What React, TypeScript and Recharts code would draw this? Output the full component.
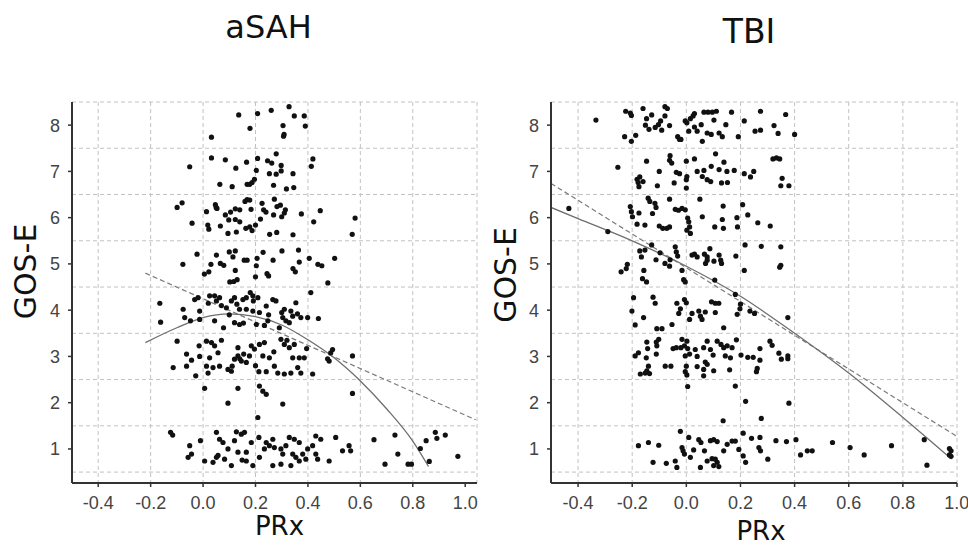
import React from 'react';
import { ComposedChart, Scatter, Line, XAxis, YAxis, CartesianGrid } from 'recharts';

type Pt = [number, number];

// ---- aSAH (left panel), points grouped by GOS-E band ----
const sahGos8: Pt[] = [
  [0.136, 8.22], [0.208, 8.25], [0.26, 8.32], [0.328, 8.4], [0.348, 8.2], [0.386, 8.2], [0.305, 7.99],
  [0.39, 7.98], [0.179, 7.93], [0.309, 7.8], [0.032, 7.74], [0.307, 7.76],
];
const sahGos7: Pt[] = [
  [0.032, 7.29], [0.085, 7.25], [0.166, 7.2], [0.125, 7.07], [0.208, 7.28], [0.246, 7.23], [0.262, 7.18],
  [0.279, 7.38], [0.298, 7.13], [0.203, 7.02], [0.253, 6.95], [0.279, 6.94], [0.343, 6.95], [0.298, 7.01],
  [0.419, 7.27], [0.413, 7.11], [-0.051, 7.1], [0.064, 6.72], [0.111, 6.67], [0.168, 6.72], [0.187, 6.76],
  [0.196, 6.83], [0.269, 6.7], [0.318, 6.62], [0.346, 6.65], [0.178, 6.72],
];
const sahGos6: Pt[] = [
  [-0.099, 6.22], [-0.08, 6.32], [-0.042, 5.88], [0.013, 6.13], [0.047, 6.28], [0.053, 6.2], [0.085, 6.06],
  [0.098, 5.95], [0.123, 6.19], [0.14, 6.17], [0.168, 6.39], [0.178, 6.38], [0.183, 6.18], [0.225, 6.31],
  [0.231, 6.17], [0.272, 6.4], [0.282, 6.24], [0.295, 6.27], [0.314, 6.17], [0.269, 6.06], [0.3, 6.02],
  [0.219, 5.97], [0.2, 5.84], [0.178, 5.8], [0.163, 5.77], [0.14, 5.91], [0.123, 5.96], [0.066, 5.82],
  [0.018, 5.84], [0.022, 5.75], [0.095, 5.66], [0.127, 5.69], [0.187, 5.72], [0.254, 5.64], [0.281, 5.68],
  [0.343, 5.63], [0.375, 6.08], [0.422, 5.91], [0.447, 6.15], [0.58, 5.99], [0.569, 5.64], [0.05, 6.22],
  [0.16, 6.35], [0.31, 6.1], [0.105, 6.12], [0.24, 6.12],
];
const sahGos5: Pt[] = [
  [-0.077, 4.99], [-0.023, 5.21], [0.051, 5.19], [0.03, 4.99], [0.022, 4.83], [0.005, 4.78], [0.066, 5.01],
  [0.079, 4.97], [0.1, 5.26], [0.123, 5.28], [0.114, 5.15], [0.157, 5.08], [0.168, 5.08], [0.206, 5.12],
  [0.229, 5.25], [0.203, 4.96], [0.267, 5.08], [0.301, 5.28], [0.364, 5.3], [0.367, 5.04], [0.343, 4.9],
  [0.352, 4.83], [0.405, 5.12], [0.438, 4.99], [0.453, 4.96], [0.502, 5.12], [0.244, 4.79], [0.25, 4.74],
  [0.123, 4.86], [0.102, 4.61], [0.117, 4.62], [0.13, 4.66], [0.2, 4.72], [0.476, 4.59],
];
const sahGos4: Pt[] = [
  [-0.165, 4.15], [-0.162, 3.74], [-0.076, 4.02], [-0.07, 3.84], [-0.048, 3.77], [-0.032, 4.23], [-0.019, 4.27],
  [-0.013, 3.98], [-0.013, 3.8], [0.025, 4.31], [0.044, 4.31], [0.051, 4.2], [0.063, 4.27], [0.089, 4.05],
  [0.108, 4.2], [0.12, 4.27], [0.129, 4.13], [0.152, 4.23], [0.165, 4.27], [0.19, 4.31], [0.192, 4.2],
  [0.209, 4.27], [0.139, 4.02], [0.165, 4.02], [0.19, 3.98], [0.215, 3.95], [0.241, 4.09], [0.266, 4.23],
  [0.278, 4.2], [0.31, 4.02], [0.335, 3.98], [0.354, 4.16], [0.304, 3.84], [0.316, 3.77], [0.342, 3.87],
  [0.373, 3.84], [0.399, 3.84], [0.44, 3.82], [0.411, 4.38], [0.044, 3.77], [0.078, 3.62], [0.12, 3.73],
  [0.139, 3.69], [0.154, 3.72], [0.203, 3.69], [0.234, 3.67], [0.247, 3.77], [0.291, 3.62], [0.329, 3.73],
  [0.07, 4.1], [0.18, 4.38], [0.02, 4.15], [0.1, 3.9], [0.25, 3.9], [0.3, 3.95], [0.36, 3.92],
];
const sahGos3: Pt[] = [
  [-0.099, 3.33], [-0.063, 3.05], [-0.044, 2.92], [-0.063, 2.79], [-0.114, 2.76], [-0.028, 2.58], [-0.015, 3.23],
  [-0.013, 3.0], [0.013, 3.33], [0.032, 3.3], [0.044, 3.23], [0.057, 3.08], [0.025, 2.97], [0.013, 2.79],
  [0.038, 2.76], [0.019, 2.64], [0.095, 2.72], [0.111, 2.79], [0.12, 2.94], [0.133, 3.01], [0.146, 2.9],
  [0.165, 2.87], [0.177, 3.01], [0.184, 3.23], [0.196, 3.16], [0.215, 3.26], [0.234, 3.3], [0.228, 3.01],
  [0.253, 2.97], [0.272, 2.79], [0.297, 3.37], [0.31, 3.26], [0.329, 3.19], [0.348, 3.26], [0.342, 2.97],
  [0.367, 2.97], [0.386, 2.97], [0.361, 2.76], [0.373, 2.64], [0.335, 2.64], [0.31, 2.62], [0.285, 2.64],
  [0.241, 2.67], [0.213, 2.67], [0.418, 2.62], [0.395, 3.17], [0.475, 2.95], [0.487, 3.08], [0.494, 3.15],
  [0.481, 2.9], [0.57, 3.01], [0.133, 3.19], [0.063, 2.79], [0.108, 2.68], [0.14, 2.95], [0.155, 3.05],
  [0.27, 3.1], [0.32, 3.35], [0.07, 3.35], [0.2, 2.8],
];
const sahGos2: Pt[] = [
  [0.006, 2.31], [0.133, 2.31], [0.095, 1.99], [0.215, 2.36], [0.228, 2.25], [0.241, 2.18], [0.304, 1.97],
  [0.209, 1.68], [0.57, 2.2],
];
const sahGos1: Pt[] = [
  [-0.124, 1.36], [-0.116, 1.3], [-0.051, 1.07], [-0.044, 0.89], [-0.057, 0.82], [-0.01, 1.18], [0.006, 0.74],
  [0.038, 0.71], [0.051, 1.36], [0.063, 1.21], [0.076, 1.14], [0.051, 0.82], [0.057, 0.86], [0.082, 0.78],
  [0.108, 0.64], [0.095, 1.0], [0.127, 1.37], [0.146, 1.32], [0.158, 1.36], [0.12, 1.18], [0.133, 0.93],
  [0.165, 0.93], [0.149, 0.76], [0.165, 0.74], [0.213, 1.25], [0.215, 0.82], [0.234, 1.0], [0.241, 1.14],
  [0.253, 1.07], [0.266, 1.21], [0.272, 1.03], [0.266, 0.64], [0.297, 1.0], [0.304, 0.89], [0.316, 1.07],
  [0.329, 1.25], [0.348, 1.21], [0.367, 1.14], [0.342, 0.89], [0.354, 0.82], [0.335, 0.64], [0.367, 0.74],
  [0.38, 0.89], [0.399, 1.0], [0.392, 0.78], [0.418, 1.07], [0.43, 1.28], [0.449, 1.21], [0.43, 0.89],
  [0.437, 0.78], [0.481, 0.74], [0.506, 1.25], [0.532, 0.96], [0.557, 1.07], [0.563, 0.96], [0.652, 1.2],
  [0.694, 0.67], [0.732, 1.3], [0.743, 0.89], [0.782, 0.67], [0.795, 0.67], [0.829, 1.01], [0.851, 1.18],
  [0.863, 0.73], [0.886, 1.36], [0.892, 1.23], [0.924, 1.3], [0.972, 0.84], [0.184, 1.14], [0.297, 0.67],
  [0.19, 0.64],
];
const sahQuadFit: Pt[] = [
  [-0.22, 3.3], [-0.1, 3.62], [0.0, 3.84], [0.1, 3.92], [0.2, 3.86], [0.3, 3.68], [0.4, 3.36], [0.5, 2.97],
  [0.6, 2.47], [0.7, 1.87], [0.8, 1.17], [0.86, 0.62],
];
const sahLinFit: Pt[] = [[-0.22, 4.8], [1.04, 1.63]];

// ---- TBI (right panel) ----
const tbiGos8: Pt[] = [
  [-0.334, 8.11], [-0.224, 8.3], [-0.207, 8.26], [-0.203, 8.21], [-0.228, 7.75], [-0.203, 7.65], [-0.187, 7.78],
  [-0.16, 8.36], [-0.128, 8.22], [-0.147, 8.14], [-0.151, 8.0], [-0.138, 7.91], [-0.103, 8.01], [-0.095, 8.09],
  [-0.079, 8.2], [-0.079, 8.4], [-0.07, 8.36], [-0.091, 7.89], [-0.062, 7.99], [-0.032, 7.75], [-0.02, 7.69],
  [-0.004, 8.09], [0.002, 8.05], [0.015, 8.14], [0.03, 8.25], [0.03, 7.96], [0.04, 7.87], [0.055, 8.01],
  [0.065, 8.28], [0.08, 8.28], [0.096, 8.28], [0.111, 8.3], [0.102, 8.11], [0.077, 7.83], [0.059, 7.65],
  [0.092, 7.8], [0.121, 7.83], [0.146, 8.01], [0.167, 8.28], [0.133, 7.75], [0.192, 7.75], [0.214, 8.09],
  [0.274, 8.3], [0.254, 7.87], [0.274, 7.89], [0.324, 7.99], [0.339, 7.82], [0.367, 8.23], [-0.025, 7.69],
  [0.009, 7.87], [0.4, 7.8], [0.025, 8.2], [-0.115, 7.95],
];
const tbiGos7: Pt[] = [
  [-0.253, 7.09], [-0.147, 7.22], [-0.182, 6.83], [-0.172, 6.88], [-0.178, 6.76], [-0.175, 6.67], [-0.16, 6.78],
  [-0.1, 7.0], [-0.107, 6.69], [-0.06, 7.34], [-0.062, 7.24], [-0.054, 7.18], [-0.037, 6.98], [-0.025, 6.95],
  [-0.045, 6.75], [0.0, 7.22], [0.0, 6.82], [0.0, 6.64], [0.03, 7.27], [0.04, 7.0], [0.065, 7.02], [0.077, 6.82],
  [0.09, 6.78], [0.092, 7.11], [0.108, 7.38], [0.121, 7.04], [0.13, 6.75], [0.139, 7.2], [0.15, 7.0],
  [0.152, 6.76], [0.177, 7.02], [0.214, 6.95], [0.237, 6.88], [0.249, 7.0], [0.32, 7.27], [0.333, 7.29],
  [0.345, 7.27], [0.354, 6.85], [0.349, 6.69], [0.379, 6.69], [0.059, 6.89], [0.002, 6.89],
];
const tbiGos6: Pt[] = [
  [-0.434, 6.2], [-0.29, 5.7], [-0.207, 6.24], [-0.203, 6.13], [-0.199, 6.02], [-0.175, 6.1], [-0.182, 5.86],
  [-0.153, 5.84], [-0.141, 6.42], [-0.135, 6.35], [-0.116, 6.31], [-0.112, 6.22], [-0.125, 6.09], [-0.1, 5.82],
  [-0.087, 5.77], [-0.072, 5.77], [-0.062, 5.8], [-0.062, 6.4], [-0.041, 6.18], [-0.029, 6.16], [-0.016, 6.2],
  [-0.004, 6.17], [0.005, 5.99], [0.009, 5.91], [0.012, 5.8], [0.002, 5.73], [0.015, 5.66], [0.05, 6.4],
  [0.059, 6.02], [0.105, 5.8], [0.136, 6.25], [0.133, 5.96], [0.137, 5.77], [0.187, 6.0], [0.189, 5.8],
  [0.208, 6.28], [0.227, 6.06], [0.264, 5.89], [0.31, 5.82],
];
const tbiGos5: Pt[] = [
  [-0.218, 4.99], [-0.222, 4.9], [-0.241, 4.83], [-0.172, 5.28], [-0.166, 5.15], [-0.153, 5.3], [-0.157, 4.86],
  [-0.162, 4.68], [-0.147, 4.61], [-0.128, 5.41], [-0.112, 5.09], [-0.097, 5.24], [-0.079, 5.01], [-0.062, 4.95],
  [-0.06, 5.09], [-0.041, 5.37], [-0.037, 5.26], [-0.032, 5.17], [-0.016, 4.86], [-0.01, 4.66], [-0.004, 4.61],
  [0.021, 5.19], [0.03, 5.21], [0.04, 5.15], [0.067, 5.21], [0.077, 5.15], [0.077, 5.08], [0.071, 5.01],
  [0.087, 5.33], [0.102, 5.06], [0.105, 4.65], [0.121, 5.19], [0.13, 5.01], [0.127, 5.08], [0.183, 5.17],
  [0.217, 5.41], [0.214, 4.86], [0.277, 5.38], [0.349, 5.37], [0.349, 4.97], [0.345, 4.93],
];
const tbiGos4: Pt[] = [
  [-0.195, 4.27], [-0.123, 4.28], [-0.115, 4.15], [-0.201, 3.98], [-0.158, 3.84], [-0.189, 3.68], [-0.035, 4.15],
  [-0.022, 4.03], [-0.028, 3.93], [-0.007, 4.23], [0.0, 4.16], [0.012, 3.8], [0.021, 3.93], [0.046, 3.98],
  [0.052, 3.87], [0.07, 3.96], [0.058, 3.8], [0.093, 4.18], [0.107, 4.15], [0.12, 4.15], [0.107, 3.95],
  [0.138, 3.62], [0.181, 4.34], [0.2, 4.13], [0.198, 4.03], [0.188, 3.91], [0.235, 3.98], [0.252, 3.93],
  [0.375, 3.84], [-0.109, 3.6], [-0.09, 3.6], [-0.053, 3.69],
];
const tbiGos3: Pt[] = [
  [-0.189, 3.01], [-0.177, 3.08], [-0.146, 3.31], [-0.143, 3.17], [-0.148, 2.97], [-0.14, 2.79], [-0.146, 2.69],
  [-0.17, 2.62], [-0.152, 2.64], [-0.136, 2.63], [-0.111, 3.31], [-0.109, 3.23], [-0.102, 3.37], [-0.111, 3.05],
  [-0.078, 2.79], [-0.057, 2.79], [-0.049, 3.17], [-0.037, 3.19], [-0.02, 3.19], [-0.007, 3.23], [-0.016, 3.37],
  [0.002, 3.33], [0.005, 3.17], [-0.004, 3.01], [0.012, 3.05], [0.0, 2.79], [-0.004, 2.67], [0.002, 2.6],
  [0.033, 3.15], [0.04, 3.0], [0.04, 2.78], [0.064, 3.19], [0.077, 3.33], [0.089, 3.15], [0.099, 3.03],
  [0.07, 2.88], [0.077, 2.83], [0.064, 2.72], [0.064, 2.58], [0.101, 2.69], [0.114, 3.33], [0.128, 3.26],
  [0.138, 3.19], [0.151, 3.23], [0.169, 3.19], [0.144, 3.01], [0.163, 2.97], [0.16, 2.71], [0.185, 3.36],
  [0.202, 3.03], [0.227, 2.98], [0.247, 2.98], [0.272, 3.17], [0.272, 2.92], [0.262, 2.74], [0.259, 2.67],
  [0.309, 3.33], [0.317, 3.24], [0.342, 3.07], [0.351, 2.94], [0.375, 3.01], [0.375, 2.95],
];
const tbiGos2: Pt[] = [
  [0.005, 2.35], [0.181, 2.36], [0.219, 2.03], [0.379, 1.99], [0.277, 1.66], [0.136, 1.61],
];
const tbiGos1: Pt[] = [
  [-0.177, 1.07], [-0.14, 1.14], [-0.102, 1.08], [-0.123, 0.71], [-0.074, 0.69], [-0.041, 0.74], [-0.035, 0.6],
  [-0.022, 1.38], [-0.016, 1.03], [-0.012, 0.96], [-0.007, 0.89], [0.009, 1.25], [0.015, 0.82], [0.027, 0.98],
  [0.046, 1.2], [0.054, 1.14], [0.067, 0.96], [0.052, 0.6], [0.077, 0.74], [0.089, 1.18], [0.101, 1.2],
  [0.114, 1.16], [0.095, 0.79], [0.107, 0.78], [0.114, 0.71], [0.101, 0.64], [0.12, 0.62], [0.138, 0.96],
  [0.151, 1.1], [0.169, 1.17], [0.181, 1.17], [0.194, 0.99], [0.21, 0.85], [0.219, 0.71], [0.21, 1.34],
  [0.241, 1.23], [0.272, 1.25], [0.268, 1.03], [0.274, 0.96], [0.301, 0.78], [0.331, 1.18], [0.37, 1.16],
  [0.405, 1.2], [0.422, 0.87], [0.447, 0.96], [0.465, 0.96], [0.54, 1.14], [0.605, 1.03], [0.657, 0.87],
  [0.758, 1.07], [0.879, 1.2], [0.889, 0.65], [0.972, 1.01], [0.978, 0.96], [0.972, 0.87], [0.978, 0.84],
];
const tbiQuadFit: Pt[] = [
  [-0.5, 6.22], [-0.4, 5.98], [-0.2, 5.5], [0.0, 4.95], [0.2, 4.3], [0.4, 3.5], [0.6, 2.64], [0.8, 1.68],
  [0.98, 0.78],
];
const tbiLinFit: Pt[] = [[-0.5, 6.74], [1.0, 1.27]];

const xTicks = [-0.4, -0.2, 0.0, 0.2, 0.4, 0.6, 0.8, 1.0];
const yTicks = [1, 2, 3, 4, 5, 6, 7, 8];
const yGridValues = [0.5, 1.5, 2.5, 3.5, 4.5, 5.5, 6.5, 7.5, 8.5];

const toXY = (pts: Pt[]) => pts.map(([x, y]) => ({ x, y }));

const sahPoints = toXY([...sahGos8, ...sahGos7, ...sahGos6, ...sahGos5, ...sahGos4, ...sahGos3, ...sahGos2, ...sahGos1]);
const tbiPoints = toXY([...tbiGos8, ...tbiGos7, ...tbiGos6, ...tbiGos5, ...tbiGos4, ...tbiGos3, ...tbiGos2, ...tbiGos1]);

const tickStyle = { fontFamily: 'Liberation Sans, Arial, sans-serif', fontSize: 18, fill: '#444' };
const axisStroke = { stroke: '#333', strokeWidth: 2 };
const labelFont = 'DejaVu Sans, Verdana, sans-serif';

const Dot = (p: any) => <circle cx={p.cx} cy={p.cy} r={2.6} fill="#111" />;

interface PanelProps {
  points: { x: number; y: number }[];
  quad: Pt[];
  lin: Pt[];
  xDomain: [number, number];
  xGrid: number[];
  yAxisWidth: number;
  marginRight: number;
  xLabelOffset: number;
  xLabelDx: number;
  yLabelX: number;
  yLabelDy: number;
}

const Panel: React.FC<PanelProps> = ({ points, quad, lin, xDomain, xGrid, yAxisWidth, marginRight, xLabelOffset, xLabelDx, yLabelX, yLabelDy }) => {
  return (
    <ComposedChart width={484} height={547} margin={{ top: 102, right: marginRight, bottom: 0, left: 0 }}>
      <CartesianGrid stroke="#c2c2c2" strokeDasharray="4 3" horizontalValues={yGridValues} verticalValues={xGrid} />
      <XAxis
        type="number"
        dataKey="x"
        domain={xDomain}
        ticks={xTicks}
        allowDataOverflow
        height={64}
        tickSize={4}
        tickMargin={9}
        tick={tickStyle}
        tickFormatter={(v: number) => v.toFixed(1)}
        axisLine={axisStroke}
        tickLine={{ stroke: '#333', strokeWidth: 1.5 }}
        label={{
          content: (p: any) => {
            const vb = p.viewBox;
            return (
              <text x={vb.x + vb.width / 2 + xLabelDx} y={vb.y + vb.height - xLabelOffset} textAnchor="middle" fontFamily={labelFont} fontSize={26} fill="#111">
                PRx
              </text>
            );
          },
        }}
      />
      <YAxis
        type="number"
        dataKey="y"
        domain={[0.264, 8.5]}
        ticks={yTicks}
        allowDataOverflow
        width={yAxisWidth}
        tickSize={4}
        tickMargin={8}
        tick={tickStyle}
        axisLine={axisStroke}
        tickLine={{ stroke: '#333', strokeWidth: 1.5 }}
        label={{
          content: (p: any) => {
            const vb = p.viewBox;
            const cx = vb.x + yLabelX;
            const cy = vb.y + vb.height / 2 + yLabelDy;
            return (
              <text x={cx} y={cy} transform={`rotate(-90 ${cx} ${cy})`} textAnchor="middle" dominantBaseline="central" fontFamily={labelFont} fontSize={30} fill="#111">
                GOS-E
              </text>
            );
          },
        }}
      />
      <Scatter data={points} shape={Dot} isAnimationActive={false} />
      <Line data={toXY(lin)} dataKey="y" type="linear" stroke="#7a7a7a" strokeWidth={1.2} strokeDasharray="5 3" dot={false} isAnimationActive={false} />
      <Line data={toXY(quad)} dataKey="y" type="monotone" stroke="#6e6e6e" strokeWidth={1.3} dot={false} isAnimationActive={false} />
    </ComposedChart>
  );
};

export default function App() {
  return (
    <div style={{ position: 'absolute', left: 0, top: 0, width: 968, height: 547, background: '#fff', overflow: 'hidden' }}>
      <div style={{ position: 'absolute', left: 0, top: 0 }}>
        <Panel
          points={sahPoints}
          quad={sahQuadFit}
          lin={sahLinFit}
          xDomain={[-0.5, 1.045]}
          xGrid={[...xTicks, 1.045]}
          yAxisWidth={72}
          marginRight={7}
          xLabelOffset={12}
          xLabelDx={5}
          yLabelX={25}
          yLabelDy={-21}
        />
      </div>
      <div style={{ position: 'absolute', left: 484, top: 0 }}>
        <Panel
          points={tbiPoints}
          quad={tbiQuadFit}
          lin={tbiLinFit}
          xDomain={[-0.5, 1.0]}
          xGrid={xTicks}
          yAxisWidth={67}
          marginRight={11}
          xLabelOffset={7}
          xLabelDx={7}
          yLabelX={21.5}
          yLabelDy={-17.5}
        />
      </div>
      <svg width={968} height={60} style={{ position: 'absolute', left: 0, top: 0, pointerEvents: 'none' }}>
        <text x={268.5} y={38} textAnchor="middle" fontFamily={labelFont} fontSize={32} fill="#111">aSAH</text>
        <text x={749} y={43} textAnchor="middle" fontFamily={labelFont} fontSize={33} fill="#111">TBI</text>
      </svg>
    </div>
  );
}
